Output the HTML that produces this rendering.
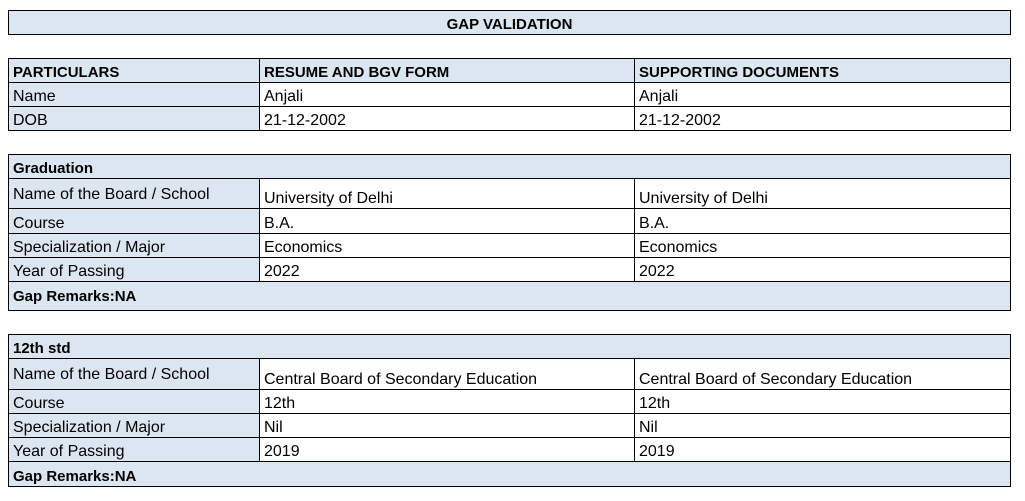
<!DOCTYPE html>
<html><head><meta charset="utf-8"><style>
body{margin:0;width:1025px;height:501px;background:#fff;position:relative;overflow:hidden;font-family:"Liberation Sans",Arial,sans-serif;font-size:16px;color:#000}
.c{position:absolute;box-sizing:border-box;border:1px solid #000;padding:0 0 0 4px;display:flex;align-items:flex-end;white-space:nowrap;overflow:hidden;background:#fff;line-height:18px}
.b{background:#dce6f1}
.h{font-weight:bold;font-size:15px}
</style></head><body>
<div class="c b h" style="left:8px;top:10px;width:1003px;height:25px;justify-content:center;padding-left:0">GAP VALIDATION</div>

<div class="c b h" style="left:8px;top:58px;width:252px;height:25px">PARTICULARS</div>
<div class="c b h" style="left:259px;top:58px;width:376px;height:25px">RESUME AND BGV FORM</div>
<div class="c b h" style="left:634px;top:58px;width:377px;height:25px">SUPPORTING DOCUMENTS</div>
<div class="c b" style="left:8px;top:82px;width:252px;height:25px">Name</div>
<div class="c" style="left:259px;top:82px;width:376px;height:25px">Anjali</div>
<div class="c" style="left:634px;top:82px;width:377px;height:25px">Anjali</div>
<div class="c b" style="left:8px;top:106px;width:252px;height:25px">DOB</div>
<div class="c" style="left:259px;top:106px;width:376px;height:25px">21-12-2002</div>
<div class="c" style="left:634px;top:106px;width:377px;height:25px">21-12-2002</div>

<div class="c b h" style="left:8px;top:154px;width:1003px;height:25px">Graduation</div>
<div class="c b" style="left:8px;top:178px;width:252px;height:31px;padding-bottom:4px">Name of the Board / School</div>
<div class="c" style="left:259px;top:178px;width:376px;height:31px">University of Delhi</div>
<div class="c" style="left:634px;top:178px;width:377px;height:31px">University of Delhi</div>
<div class="c b" style="left:8px;top:208px;width:252px;height:26px">Course</div>
<div class="c" style="left:259px;top:208px;width:376px;height:26px">B.A.</div>
<div class="c" style="left:634px;top:208px;width:377px;height:26px">B.A.</div>
<div class="c b" style="left:8px;top:233px;width:252px;height:25px">Specialization / Major</div>
<div class="c" style="left:259px;top:233px;width:376px;height:25px">Economics</div>
<div class="c" style="left:634px;top:233px;width:377px;height:25px">Economics</div>
<div class="c b" style="left:8px;top:257px;width:252px;height:25px">Year of Passing</div>
<div class="c" style="left:259px;top:257px;width:376px;height:25px">2022</div>
<div class="c" style="left:634px;top:257px;width:377px;height:25px">2022</div>
<div class="c b h" style="left:8px;top:281px;width:1003px;height:30px;padding-bottom:4px">Gap Remarks:NA</div>

<div class="c b h" style="left:8px;top:334px;width:1003px;height:25px">12th std</div>
<div class="c b" style="left:8px;top:358px;width:252px;height:32px;padding-bottom:5px">Name of the Board / School</div>
<div class="c" style="left:259px;top:358px;width:376px;height:32px">Central Board of Secondary Education</div>
<div class="c" style="left:634px;top:358px;width:377px;height:32px">Central Board of Secondary Education</div>
<div class="c b" style="left:8px;top:389px;width:252px;height:25px">Course</div>
<div class="c" style="left:259px;top:389px;width:376px;height:25px">12th</div>
<div class="c" style="left:634px;top:389px;width:377px;height:25px">12th</div>
<div class="c b" style="left:8px;top:413px;width:252px;height:25px">Specialization / Major</div>
<div class="c" style="left:259px;top:413px;width:376px;height:25px">Nil</div>
<div class="c" style="left:634px;top:413px;width:377px;height:25px">Nil</div>
<div class="c b" style="left:8px;top:437px;width:252px;height:25px">Year of Passing</div>
<div class="c" style="left:259px;top:437px;width:376px;height:25px">2019</div>
<div class="c" style="left:634px;top:437px;width:377px;height:25px">2019</div>
<div class="c b h" style="left:8px;top:461px;width:1003px;height:26px">Gap Remarks:NA</div>
</body></html>
